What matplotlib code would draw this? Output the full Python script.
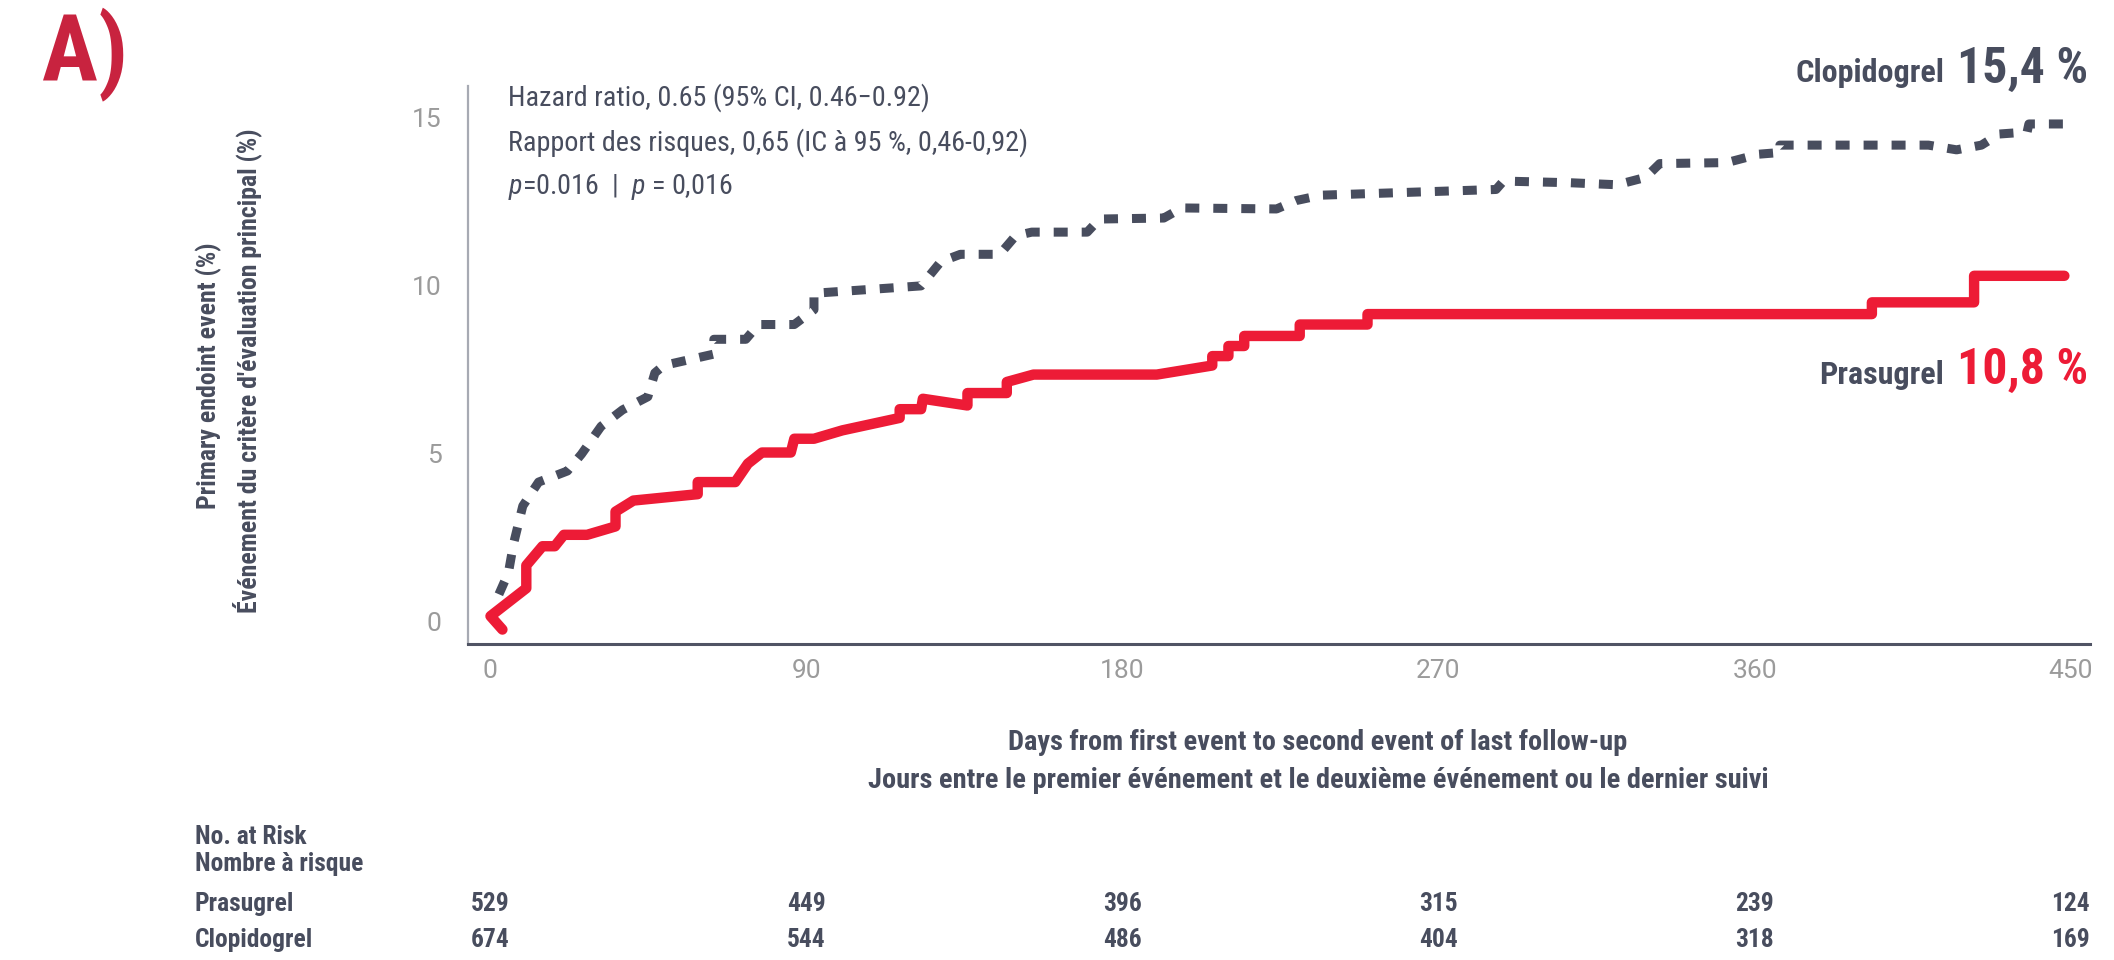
import matplotlib
matplotlib.use("Agg")
import matplotlib.pyplot as plt
import matplotlib.transforms as mtransforms

# Kaplan-Meier style curves (days, cumulative %)
pras_day = [3.5, 0.1, 10.3, 10.3, 14.9, 18.4, 21.0, 27.6, 35.7, 35.7, 40.8, 59.1, 59.1,
            69.8, 73.4, 77.4, 85.6, 86.6, 92.2, 100.3, 116.6, 116.6, 122.7, 123.2,
            135.9, 135.9, 147.1, 147.1, 154.7, 189.8, 205.6, 205.6, 210.2, 210.2,
            214.7, 214.7, 230.5, 230.5, 249.8, 249.8, 393.4, 393.4, 422.5, 422.5, 448.2]
pras_pct = [-0.24, 0.16, 0.99, 1.67, 2.24, 2.24, 2.58, 2.58, 2.83, 3.27, 3.60, 3.79, 4.15,
            4.15, 4.70, 5.03, 5.03, 5.44, 5.44, 5.69, 6.06, 6.32, 6.32, 6.63,
            6.43, 6.80, 6.80, 7.13, 7.35, 7.35, 7.62, 7.90, 7.90, 8.20,
            8.20, 8.50, 8.50, 8.84, 8.84, 9.15, 9.15, 9.50, 9.50, 10.29, 10.29]

clop_day = [2.5, 5.2, 6.7, 9.3, 13.8, 22.0, 26.0, 31.6, 37.7, 44.9, 46.9, 49.4, 63.7,
            63.7, 72.8, 76.4, 86.6, 92.2, 92.2, 122.7, 128.3, 133.9, 145.1, 149.6,
            154.2, 170.0, 173.5, 191.8, 196.9, 223.9, 229.5, 236.6, 286.4, 288.5,
            307.6, 320.9, 329.0, 333.0, 352.1, 361.2, 367.2, 367.2, 409.5, 417.5,
            424.6, 429.6, 437.6, 438.1, 449.7]
clop_pct = [0.81, 1.45, 2.33, 3.44, 4.15, 4.48, 4.98, 5.81, 6.30, 6.69, 7.40, 7.62, 7.96,
            8.40, 8.40, 8.84, 8.84, 9.28, 9.77, 9.99, 10.71, 10.93, 10.93, 11.48,
            11.59, 11.59, 11.98, 12.01, 12.31, 12.28, 12.53, 12.69, 12.86, 13.11,
            13.06, 13.00, 13.22, 13.63, 13.66, 13.91, 13.96, 14.18, 14.18, 14.04,
            14.18, 14.51, 14.57, 14.81, 14.81]

x_ticks = [0, 90, 180, 270, 360, 450]
y_ticks = [0, 5, 10, 15]
risk_days = [0, 90, 180, 270, 360, 450]
risk_pras = [529, 449, 396, 315, 239, 124]
risk_clop = [674, 544, 486, 404, 318, 169]

RED = "#ed1b36"
DARK = "#484d5e"
GREY = "#9b9b9b"
COND = ["Roboto Condensed", "DejaVu Sans"]

plt.rcParams["font.family"] = ["Roboto", "DejaVu Sans"]
plt.rcParams["mathtext.fontset"] = "custom"
plt.rcParams["mathtext.it"] = "Roboto Condensed:italic"
plt.rcParams["mathtext.rm"] = "Roboto Condensed"

W, H = 2114, 960
fig = plt.figure(figsize=(W / 100, H / 100), dpi=100)
ax = fig.add_axes([468 / W, 1 - 644 / H, (2090 - 468) / W, (644 - 86) / H])


def fx(px):
    return px / W


def fy(py):
    return 1 - py / H


ax.plot(clop_day, clop_pct, color=DARK, lw=6.5, dashes=(1.55, 1.55),
        dash_capstyle="butt", solid_joinstyle="miter")
ax.plot(pras_day, pras_pct, color=RED, lw=7.5, solid_capstyle="round",
        solid_joinstyle="round")

ax.set_xlim(-6.3, 455.5)
ax.set_ylim(-0.67, 15.94)
ax.set_xticks(x_ticks)
ax.set_yticks(y_ticks)
ax.tick_params(axis="both", length=0, labelsize=19, labelcolor=GREY)
ax.tick_params(axis="y", pad=19)
ax.tick_params(axis="x", pad=11)
for s in ["top", "right"]:
    ax.spines[s].set_visible(False)
ax.spines["left"].set_color("#a7aab3")
ax.spines["left"].set_linewidth(1.6)
ax.spines["bottom"].set_color("#505464")
ax.spines["bottom"].set_linewidth(2.2)

# statistics
stats = [
    fig.text(fx(508), fy(98), "Hazard ratio, 0.65 (95% CI, 0.46\u22120.92)",
             family=COND, fontsize=20, color=DARK, va="center"),
    fig.text(fx(508), fy(143), "Rapport des risques, 0,65 (IC \u00e0 95 %, 0,46-0,92)",
             family=COND, fontsize=20, color=DARK, va="center"),
    fig.text(fx(508), fy(187), "$p$=0.016  |  $p$ = 0,016",
             family=COND, fontsize=20, color=DARK, va="center"),
]

# end labels
lab_clop = fig.text(fx(1944), fy(82), "Clopidogrel", family=COND, fontsize=21,
                    weight="bold", color=DARK, ha="right", va="baseline")
num_clop = fig.text(fx(2088), fy(83), "15,4 %", family=COND, fontsize=37,
                    weight="bold", color=DARK, ha="right", va="baseline")
lab_pras = fig.text(fx(1944), fy(384), "Prasugrel", family=COND, fontsize=21,
                    weight="bold", color=DARK, ha="right", va="baseline")
num_pras = fig.text(fx(2088), fy(384), "10,8 %", family=COND, fontsize=37,
                    weight="bold", color=RED, ha="right", va="baseline")

# panel letter
letter = fig.text(fx(42), fy(80), "A)", family=COND, fontsize=55, weight="bold",
                  color="#c8233f", va="baseline")

# axis titles
ylab1 = fig.text(fx(209), fy(376), "Primary endoint event (%)", family=COND,
                 fontsize=17, weight="bold", color=DARK, rotation=90,
                 ha="center", va="center")
ylab2 = fig.text(fx(247), fy(371),
                 "\u00c9v\u00e9nement du crit\u00e8re d'\u00e9valuation principal (%)",
                 family=COND, fontsize=17, weight="bold", color=DARK, rotation=90,
                 ha="center", va="center")
xlab1 = fig.text(fx(1318), fy(743), "Days from first event to second event of last follow-up",
                 family=COND, fontsize=17, weight="bold", color=DARK, ha="center", va="center")
xlab2 = fig.text(fx(1318), fy(780),
                 "Jours entre le premier \u00e9v\u00e9nement et le deuxi\u00e8me \u00e9v\u00e9nement ou le dernier suivi",
                 family=COND, fontsize=17, weight="bold", color=DARK, ha="center", va="center")

# number at risk table
table = []
for txt, py in [("No. at Risk", 837), ("Nombre \u00e0 risque", 864),
                ("Prasugrel", 904), ("Clopidogrel", 940)]:
    table.append(fig.text(fx(195), fy(py), txt, family=COND, fontsize=17,
                          weight="bold", color=DARK, va="center"))
trans = mtransforms.blended_transform_factory(ax.transData, fig.transFigure)
for d, p, c in zip(risk_days, risk_pras, risk_clop):
    table.append(ax.text(d, fy(904), str(p), transform=trans, family=COND, fontsize=17,
                         weight="bold", color=DARK, ha="center", va="center"))
    table.append(ax.text(d, fy(940), str(c), transform=trans, family=COND, fontsize=17,
                         weight="bold", color=DARK, ha="center", va="center"))

# size text groups so their widths match the reference
fig.canvas.draw()
rend = fig.canvas.get_renderer()


def fit(ref, target, group, vertical=False):
    bb = ref.get_window_extent(renderer=rend)
    k = target / (bb.height if vertical else bb.width)
    for t in group:
        t.set_fontsize(t.get_fontsize() * k)


fit(stats[0], 420, stats)
fit(lab_clop, 149, [lab_clop, lab_pras])
fit(num_clop, 131, [num_clop, num_pras])
fit(letter, 86, [letter])
fit(ylab2, 485, [ylab1, ylab2], vertical=True)
fit(xlab2, 898, [xlab1, xlab2])
fit(table[1], 168, table)

fig.savefig("out.png", dpi=100)
